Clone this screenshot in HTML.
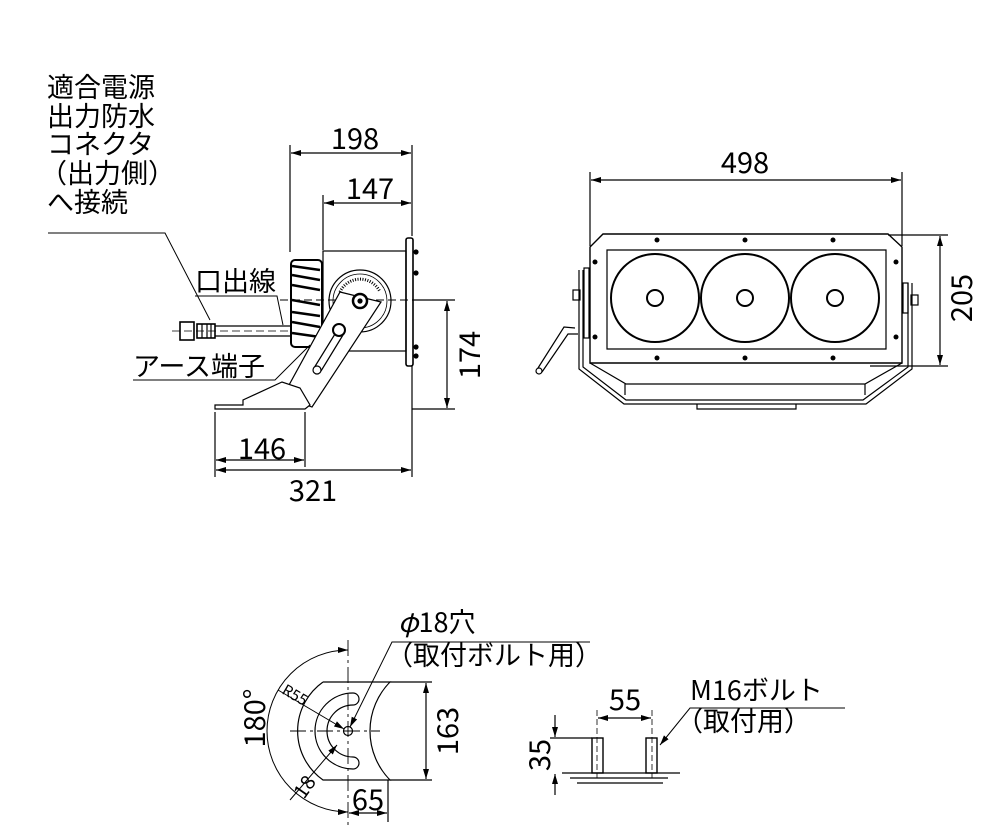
<!DOCTYPE html>
<html><head><meta charset="utf-8"><style>
html,body{margin:0;padding:0;background:#fff;}
svg{display:block;}
text{font-family:"Noto Sans CJK JP","Liberation Sans",sans-serif;fill:#000;}
</style></head><body>
<svg width="1000" height="830" viewBox="0 0 1000 830" xmlns="http://www.w3.org/2000/svg">
<defs>
<marker id="a" viewBox="0 0 10 6" refX="10" refY="3" markerWidth="10" markerHeight="6" orient="auto-start-reverse" markerUnits="userSpaceOnUse"><path d="M0,0 L10,3 L0,6 z" fill="#000"/></marker>
</defs>
<g stroke="#000" fill="none" stroke-width="1.2">
<line x1="290" y1="145" x2="290" y2="252"/>
<line x1="323" y1="195" x2="323" y2="250"/>
<line x1="412" y1="145" x2="412" y2="236"/>
<line x1="412" y1="366" x2="412" y2="477"/>
<line x1="215" y1="412" x2="215" y2="477"/>
<line x1="305" y1="412" x2="305" y2="467"/>
<line x1="412" y1="300" x2="455" y2="300"/>
<line x1="412" y1="409" x2="455" y2="409"/>
<line x1="291" y1="153" x2="411" y2="153" marker-start="url(#a)" marker-end="url(#a)"/>
<line x1="324" y1="203" x2="411" y2="203" marker-start="url(#a)" marker-end="url(#a)"/>
<line x1="447" y1="301" x2="447" y2="408" marker-start="url(#a)" marker-end="url(#a)"/>
<line x1="216" y1="460" x2="304" y2="460" marker-start="url(#a)" marker-end="url(#a)"/>
<line x1="216" y1="470" x2="411" y2="470" marker-start="url(#a)" marker-end="url(#a)"/>
<line x1="280" y1="300" x2="440" y2="300" stroke-dasharray="8,4" stroke-width="1"/>
<rect x="323" y="251" width="83" height="100"/>
<rect x="406" y="238" width="7" height="128" rx="2" stroke-width="1.6"/>
<circle cx="416" cy="252" r="2" fill="#000"/><circle cx="416" cy="273" r="2" fill="#000"/>
<circle cx="416" cy="347" r="2" fill="#000"/><circle cx="416" cy="356" r="2" fill="#000"/>
<rect x="291" y="260" width="31" height="87" rx="4" stroke-width="2"/>
<path d="M292,266 L320,270 M292,275 L320,280 M292,285 L320,290 M292,300 L320,305 M292,312 L320,316 M292,322 L320,327 M292,333 L320,337" stroke-width="2.5"/>
<circle cx="360" cy="301" r="31"/>
<circle cx="360" cy="301" r="27" stroke-width="0.8"/>
<path d="M340,292 A22,22 0 0 1 380,292" stroke-width="3" stroke-dasharray="1,1.5"/>
<path d="M340,292 L381,302 L312,407 L283,396 Z" fill="#fff"/>
<circle cx="360" cy="301" r="7" stroke-width="2.5" fill="#fff"/>
<circle cx="360" cy="301" r="2" fill="#000"/>
<circle cx="339" cy="330" r="6" stroke-width="2" fill="#fff"/>
<path d="M335,334 L314,368 M343,335 L321,371"/>
<circle cx="317" cy="370" r="4" fill="#fff"/>
<path d="M215,405 L243,405 L243,400 L282,382 L300,388 L310,405 L305,409 L215,409 Z" fill="#fff"/>
<rect x="180" y="322" width="14" height="18" stroke-width="1.6"/>
<rect x="197" y="324" width="18" height="14" stroke-width="1.6"/>
<path d="M202,324 V338 M207,324 V338 M211,324 V338"/>
<line x1="215" y1="326" x2="291" y2="326"/><line x1="215" y1="336" x2="291" y2="336"/>
<line x1="172" y1="331" x2="290" y2="331" stroke-dasharray="8,4" stroke-width="0.8"/>
<path d="M48,233 L165,233 L210,320" stroke-width="1"/>
<path d="M195,296 L277,296 L283,325" stroke-width="1"/>
<path d="M133,380 L275,380 L310,345" stroke-width="1"/>
<line x1="590" y1="172" x2="590" y2="246"/>
<line x1="902" y1="172" x2="902" y2="246"/>
<line x1="591" y1="180" x2="901" y2="180" marker-start="url(#a)" marker-end="url(#a)"/>
<line x1="888" y1="235" x2="948" y2="235"/>
<line x1="870" y1="366" x2="948" y2="366"/>
<line x1="940" y1="236" x2="940" y2="365" marker-start="url(#a)" marker-end="url(#a)"/>
<path d="M603,234 L888,234 L902,247 L902,363 L590,363 L590,247 Z" stroke-width="1.4"/>
<path d="M607,250 L886,250 L886,349 L607,349 Z" stroke-width="1.2"/>
<circle cx="655" cy="298" r="44" stroke-width="2"/>
<circle cx="745" cy="298" r="44" stroke-width="2"/>
<circle cx="835" cy="298" r="44" stroke-width="2"/>
<circle cx="655" cy="298" r="8" stroke-width="2"/>
<circle cx="745" cy="298" r="8" stroke-width="2"/>
<circle cx="835" cy="298" r="8" stroke-width="2"/>
<g fill="#000" stroke="none">
<circle cx="657" cy="240" r="2.5"/><circle cx="745" cy="240" r="2.5"/><circle cx="833" cy="240" r="2.5"/>
<circle cx="657" cy="358" r="2.5"/><circle cx="745" cy="358" r="2.5"/><circle cx="833" cy="358" r="2.5"/>
<circle cx="595" cy="262" r="2.5"/><circle cx="896" cy="262" r="2.5"/>
<circle cx="595" cy="337" r="2.5"/><circle cx="896" cy="337" r="2.5"/>
</g>
<path d="M590,363 L626,384 L865,384 L902,363"/>
<path d="M625,384 V395 M865,384 V395"/>
<path d="M583,270 L583,367 L626,400 L863,400 L908,367 L908,283" stroke-width="1.2"/>
<path d="M579,270 L579,369 L624,404 L866,404 L912,369 L912,283" stroke-width="1.2"/>
<path d="M697,404 V409 L796,409 V404"/>
<rect x="584" y="268" width="5" height="70"/>
<rect x="903" y="283" width="5" height="30"/>
<rect x="573" y="290" width="7" height="10"/><rect x="911" y="295" width="7" height="10"/>
<path d="M575,328 L564,327 L538,368 M578,334 L568,334 L542,372"/>
<circle cx="539" cy="371" r="3"/>
<line x1="348" y1="640" x2="348" y2="825" stroke-dasharray="16,4,3,4" stroke-width="0.9"/>
<line x1="290" y1="731" x2="380" y2="731" stroke-dasharray="16,4,3,4" stroke-width="0.9"/>
<path d="M348,650 A81,81 0 0 0 348,812" marker-start="url(#a)" marker-end="url(#a)" stroke-width="1"/>
<path d="M323,682 L390,682 A70,70 0 0 0 390,780 L323,780 A60,60 0 0 1 323,682" stroke-width="1.2"/>
<path d="M353,693 A38,38 0 0 0 353,769 M353,705 A26,26 0 0 0 353,757" stroke-width="1.2"/>
<path d="M353,693 A6,6 0 0 1 353,705 M353,757 A6,6 0 0 1 353,769" stroke-width="1.2"/>
<circle cx="348" cy="731" r="4.5" stroke-width="1.2"/>
<path d="M278,690 L344,729" marker-end="url(#a)" stroke-width="1"/>
<path d="M290,800 L337,745" marker-end="url(#a)" stroke-width="1"/>
<line x1="390" y1="682" x2="432" y2="682"/>
<line x1="390" y1="780" x2="432" y2="780"/>
<line x1="426" y1="683" x2="426" y2="779" marker-start="url(#a)" marker-end="url(#a)"/>
<line x1="388" y1="780" x2="388" y2="822"/>
<line x1="349" y1="813" x2="387" y2="813" marker-start="url(#a)" marker-end="url(#a)"/>
<path d="M590,642 L392,642 L350,727" marker-end="url(#a)" stroke-width="1"/>
<rect x="592" y="738" width="11" height="35" stroke-width="1.4"/>
<rect x="646" y="738" width="11" height="35" stroke-width="1.4"/>
<line x1="597" y1="710" x2="597" y2="778" stroke-dasharray="6,3" stroke-width="0.8"/>
<line x1="652" y1="710" x2="652" y2="778" stroke-dasharray="6,3" stroke-width="0.8"/>
<line x1="598" y1="718" x2="651" y2="718" marker-start="url(#a)" marker-end="url(#a)"/>
<line x1="562" y1="773" x2="680" y2="773"/>
<line x1="570" y1="778" x2="668" y2="778"/>
<line x1="577" y1="783" x2="663" y2="783"/>
<line x1="550" y1="738" x2="592" y2="738"/>
<line x1="555" y1="715" x2="555" y2="737" marker-end="url(#a)"/>
<line x1="555" y1="795" x2="555" y2="774" marker-end="url(#a)"/>
<path d="M845,708 L690,708 L660,745" marker-end="url(#a)" stroke-width="1"/>
</g>
<g font-size="27">
<text x="47" y="97">適合電源</text>
<text x="47" y="126">出力防水</text>
<text x="47" y="154">コネクタ</text>
<text x="40" y="183">（出力側）</text>
<text x="47" y="212">へ接続</text>
<text x="195" y="291">口出線</text>
<text x="133" y="376">アース端子</text>
</g>
<g font-size="29" text-anchor="middle">
<text x="355" y="149">198</text>
<text x="370" y="199">147</text>
<text x="262" y="459">146</text>
<text x="313" y="501">321</text>
<text x="745" y="173">498</text>
<text transform="translate(972,298) rotate(-90)">205</text>
<text transform="translate(480,355) rotate(-90)">174</text>
<text transform="translate(458,731) rotate(-90)">163</text>
<text transform="translate(265,718) rotate(-90)">180°</text>
<text x="368" y="810">65</text>
<text x="625" y="710">55</text>
<text transform="translate(550,755) rotate(-90)">35</text>
</g>
<g font-size="27">
<text x="398" y="632"><tspan font-style="italic">φ</tspan>18穴</text>
<text x="386" y="665">（取付ボルト用）</text>
<text x="690" y="700">M16ボルト</text>
<text x="676" y="731">（取付用）</text>
</g>
<text transform="translate(281,693) rotate(30)" font-size="15">R55</text>
<text transform="translate(304,800) rotate(-55)" font-size="20">18</text>
</svg>
</body></html>
